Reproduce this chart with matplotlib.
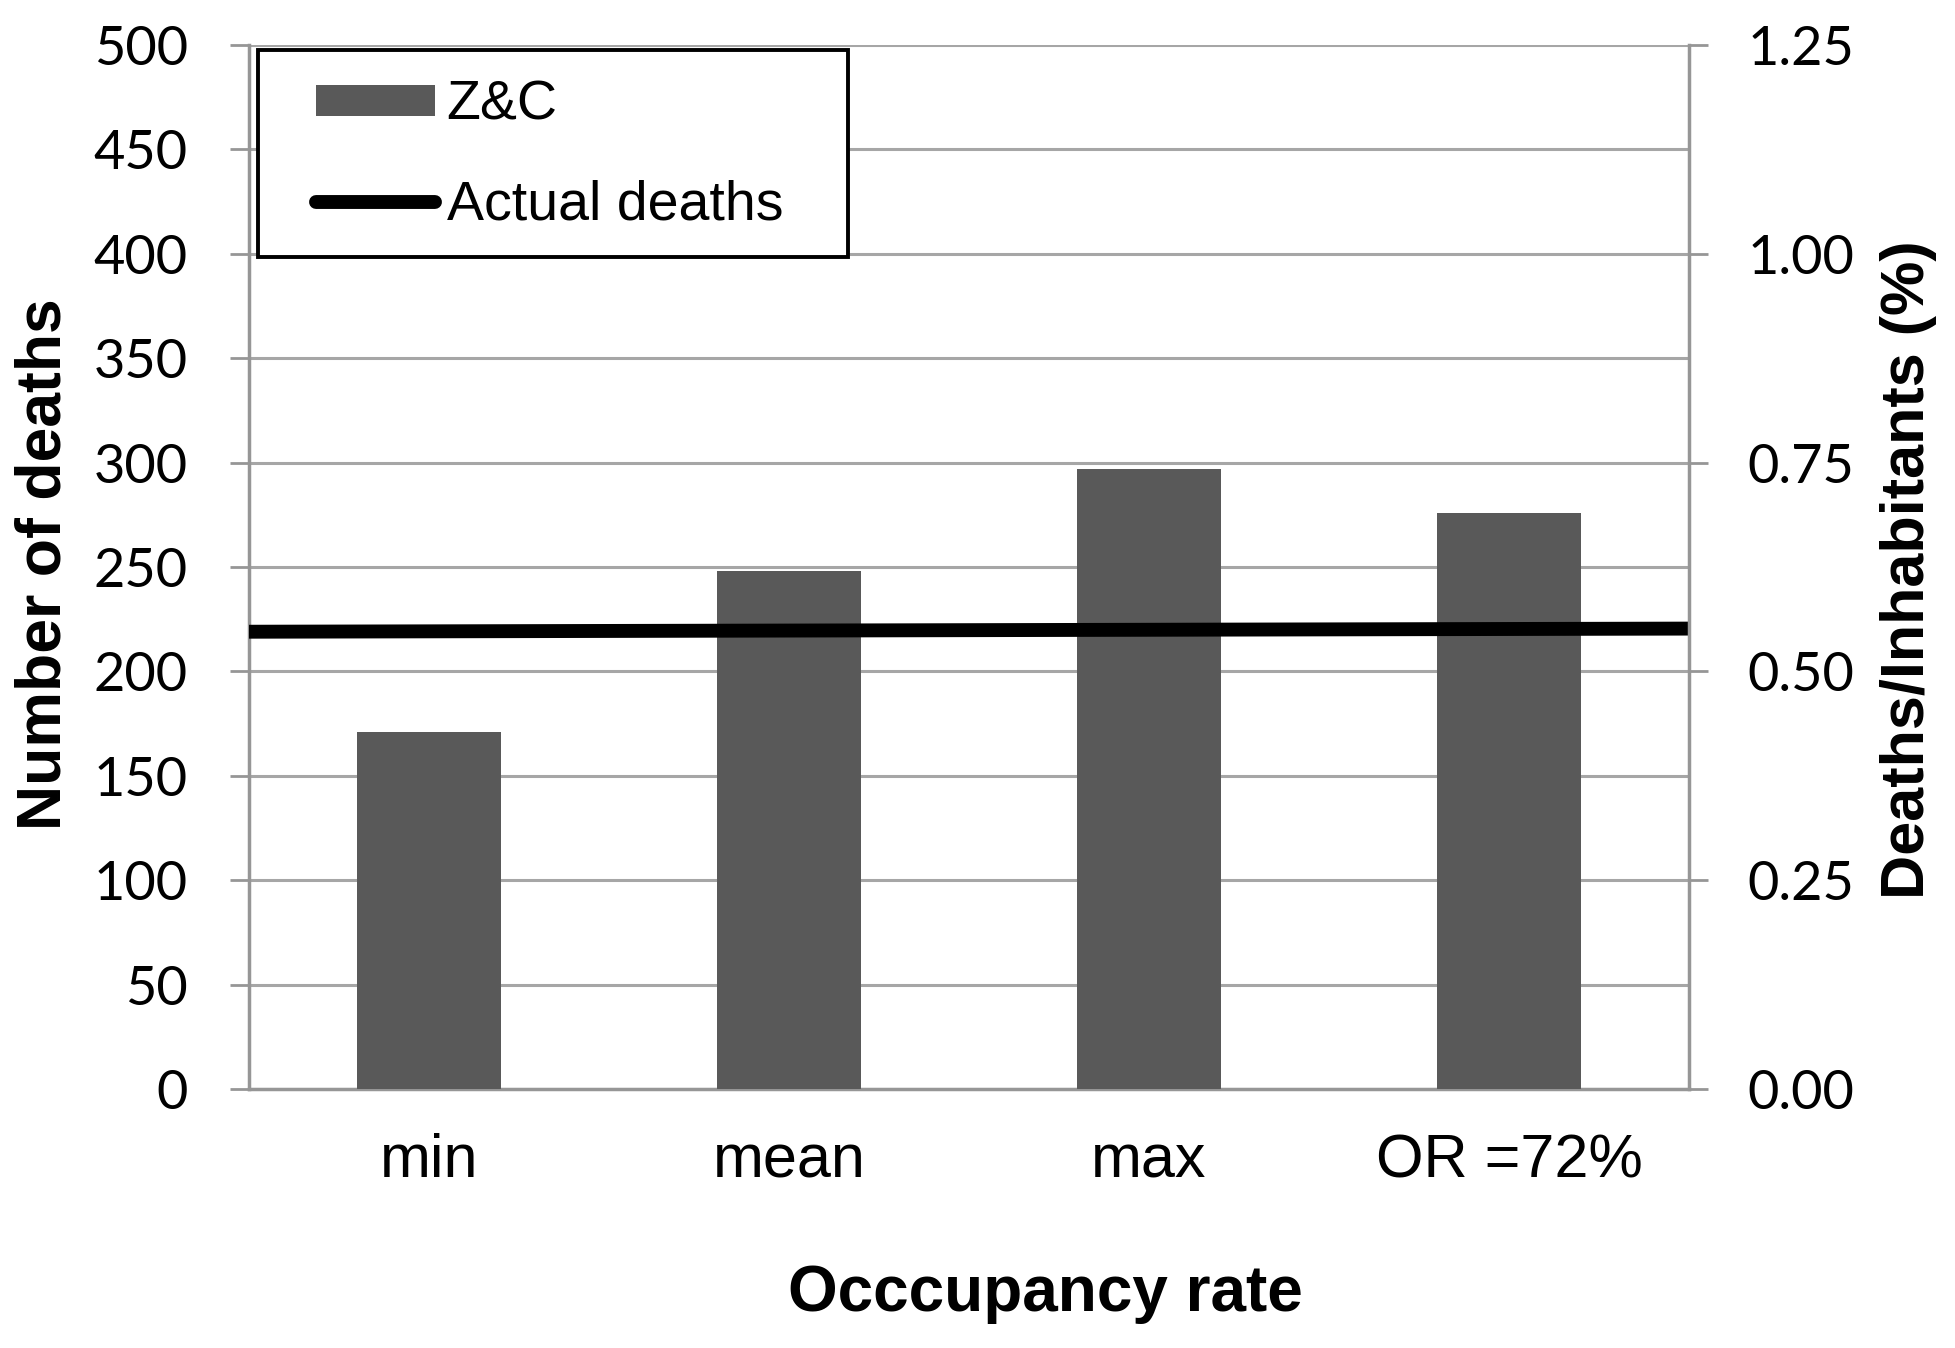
import matplotlib
matplotlib.use("Agg")
import matplotlib.pyplot as plt
from matplotlib.patches import Patch, Rectangle
from matplotlib.lines import Line2D

categories = ["min", "mean", "max", "OR =72%"]
zc_deaths = [171, 248, 297, 276]
actual_deaths_ends = [219, 220.5]
left_ticks = [0, 50, 100, 150, 200, 250, 300, 350, 400, 450, 500]
right_ticks = [0.00, 0.25, 0.50, 0.75, 1.00, 1.25]

W, H = 1956, 1348
fig = plt.figure(figsize=(W / 100, H / 100), dpi=100)
L, R, B, T = 249, 1689, 1089, 45
ax = fig.add_axes([L / W, 1 - B / H, (R - L) / W, (B - T) / H])

tick_font = "Lato"
label_font = "Liberation Sans"
grid_col = "#a6a6a6"
spine_col = "#969696"

x = list(range(len(categories)))
ax.bar(x, zc_deaths, width=0.4, color="#595959", zorder=3)
ax.plot([-0.5, len(categories) - 0.5], actual_deaths_ends, color="black",
        lw=10, solid_capstyle="butt", zorder=4)
ax.set_xlim(-0.5, len(categories) - 0.5)
ax.set_ylim(0, 500)
ax.set_yticks(left_ticks)
ax.set_yticklabels([str(v) for v in left_ticks], fontfamily=tick_font, fontsize=39)
ax.set_xticks(x)
ax.set_xticklabels(categories, fontfamily=label_font, fontsize=44)
ax.tick_params(axis="x", length=0, pad=32)
ax.tick_params(axis="y", length=14, width=2, color=spine_col, pad=30, direction="out")
ax.yaxis.grid(True, color=grid_col, lw=2.2, zorder=0)
ax.set_axisbelow(True)
ax.spines["top"].set_visible(False)
ax.spines["right"].set_visible(False)
for s in ["left", "bottom"]:
    ax.spines[s].set_color(spine_col)
    ax.spines[s].set_linewidth(2.5)

ax2 = ax.twinx()
ax2.set_ylim(0, 1.25)
ax2.set_yticks(right_ticks)
ax2.set_yticklabels([f"{v:.2f}" for v in right_ticks], fontfamily=tick_font, fontsize=39)
ax2.tick_params(axis="y", length=14, width=2, color=spine_col, pad=28, direction="out")
for s in ["top", "left", "bottom"]:
    ax2.spines[s].set_visible(False)
ax2.spines["right"].set_color(spine_col)
ax2.spines["right"].set_linewidth(2.5)

fig.text(1045 / W, 1 - 1294 / H, "Occcupancy rate", fontfamily=label_font,
         fontweight="bold", fontsize=46, ha="center", va="center")
fig.text(44 / W, 1 - 564 / H, "Number of deaths", fontfamily=label_font,
         fontweight="bold", fontsize=45, ha="center", va="center", rotation=90)
fig.text(1909 / W, 1 - 570 / H, "Deaths/Inhabitants (%)", fontfamily=label_font,
         fontweight="bold", fontsize=44, ha="center", va="center", rotation=90)

# legend frame
ax2.add_patch(Rectangle((258 / W, 1 - 257 / H), (848 - 258) / W, (257 - 50) / H,
                        transform=fig.transFigure, facecolor="white",
                        edgecolor="black", lw=2.8, zorder=9, clip_on=False))
handles = [Patch(facecolor="#595959", edgecolor="none"),
           Line2D([0], [0], color="black", lw=10, solid_capstyle="round")]
leg = ax2.legend(handles, ["Z&C", "Actual deaths"], loc="upper left",
                 bbox_to_anchor=(316 / W, 1 - 80 / H),
                 bbox_transform=fig.transFigure,
                 prop={"family": label_font, "size": 40}, frameon=False,
                 handlelength=2.15, handleheight=0.47, handletextpad=0.2,
                 labelspacing=0.86, borderpad=0, borderaxespad=0)
leg.set_zorder(10)

fig.savefig("out.png", dpi=100, facecolor="white")
